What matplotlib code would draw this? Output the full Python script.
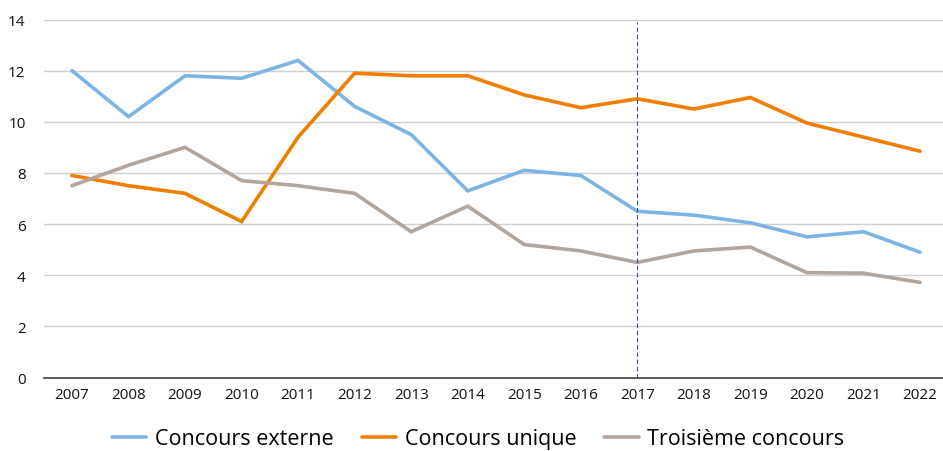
import matplotlib
matplotlib.use("Agg")
import matplotlib.pyplot as plt
import numpy as np

years = ["2007", "2008", "2009", "2010", "2011", "2012", "2013", "2014",
         "2015", "2016", "2017", "2018", "2019", "2020", "2021", "2022"]
externe = [12.0, 10.2, 11.8, 11.7, 12.4, 10.6, 9.5, 7.3, 8.1, 7.9,
           6.5, 6.35, 6.05, 5.5, 5.7, 4.9]
unique = [7.9, 7.5, 7.2, 6.1, 9.4, 11.9, 11.8, 11.8, 11.05, 10.55,
          10.9, 10.5, 10.95, 9.95, 9.4, 8.85]
troisieme = [7.5, 8.3, 9.0, 7.7, 7.5, 7.2, 5.7, 6.7, 5.2, 4.95,
             4.5, 4.95, 5.1, 4.1, 4.08, 3.72]
labels = ["Concours externe", "Concours unique", "Troisième concours"]
marker_year = "2017"
yticks = [0, 2, 4, 6, 8, 10, 12, 14]

plt.rcParams['font.family'] = ['Open Sans', 'DejaVu Sans']

fig = plt.figure(figsize=(9.43, 4.52), dpi=100)
ax = fig.add_axes([43.7/943, 1-378.5/452, 904.6/943, 358/452])

x = np.arange(len(years))
colors = ["#7DB4E3", "#F07E00", "#B2A59C"]
for vals, lab, c in zip([externe, unique, troisieme], labels, colors):
    ax.plot(x, vals, color=c, lw=2.6, label=lab, solid_capstyle='round',
            solid_joinstyle='miter')

xi = years.index(marker_year)
ax.plot([xi, xi], [0, 13.9], color="#3352B0", lw=0.8, ls=(0, (4, 2.5)))

ax.set_xlim(-0.5, len(years) - 0.5)
ax.set_ylim(0, 14)
ax.set_yticks(yticks)
ax.set_yticklabels([str(v) for v in yticks])
ax.set_xticks(x)
ax.set_xticklabels(years)
ax.yaxis.grid(True, color="#CFCFCF", lw=1.0)
ax.set_axisbelow(True)
for s in ["top", "right", "left"]:
    ax.spines[s].set_visible(False)
ax.spines["bottom"].set_color("#404040")
ax.spines["bottom"].set_linewidth(1.2)
ax.tick_params(axis='both', length=0, labelsize=11, colors="#111111")
ax.tick_params(axis='x', pad=7)
ax.tick_params(axis='y', pad=13)

fig.legend(loc='center', bbox_to_anchor=(0.507, 0.027), ncol=3, frameon=False,
           fontsize=15.5, handlelength=1.6, handletextpad=0.4, columnspacing=1.3,
           borderpad=0.1)

fig.savefig("out.png", dpi=100)
